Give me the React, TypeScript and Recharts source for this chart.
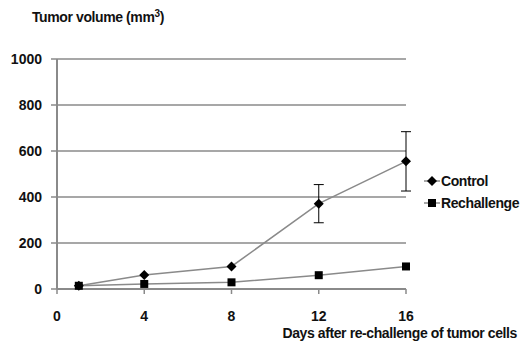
import React from "react";
import { LineChart, Line, XAxis, YAxis, CartesianGrid, ErrorBar } from "recharts";

const days = [1, 4, 8, 12, 16];
const control = [14, 61, 98, 371, 555];
const controlErr = [0, 0, 0, 83, 129];
const rechallenge = [14, 22, 29, 60, 98];
const xTicks = [0, 4, 8, 12, 16];
const yTicks = [0, 200, 400, 600, 800, 1000];
const seriesNames = ["Control", "Rechallenge"];

const data = days.map((d, i) => ({
  day: d,
  control: control[i],
  controlErr: controlErr[i],
  rechallenge: rechallenge[i],
}));

const GRAY = "#8a8a8a";
const FONT = "'Liberation Sans', Arial, sans-serif";

const renderDiamond = (props: any) => {
  const { cx, cy, index } = props;
  if (cx == null || cy == null) return <g key={`dm-${index}`} />;
  const r = 5;
  return (
    <polygon
      key={`dm-${index}`}
      points={`${cx},${cy - r} ${cx + r},${cy} ${cx},${cy + r} ${cx - r},${cy}`}
      fill="#000"
    />
  );
};

const renderSquare = (props: any) => {
  const { cx, cy, index } = props;
  if (cx == null || cy == null) return <g key={`sq-${index}`} />;
  const s = 8;
  return <rect key={`sq-${index}`} x={cx - s / 2} y={cy - s / 2} width={s} height={s} fill="#000" />;
};

const tickStyle = { fontFamily: FONT, fontSize: 14, fontWeight: 700, fill: "#111" };

const textStyle: React.CSSProperties = {
  fontFamily: FONT,
  fontSize: 14,
  fontWeight: 700,
  color: "#111",
  whiteSpace: "nowrap",
  letterSpacing: "-0.4px",
};

export default function App() {
  return (
    <div style={{ position: "absolute", left: 0, top: 0, width: 521, height: 354, background: "#fff" }}>
      <LineChart
        width={521}
        height={354}
        data={data}
        margin={{ top: 59, right: 115, bottom: 0, left: 0 }}
      >
        <CartesianGrid horizontal vertical={false} stroke={GRAY} strokeWidth={1.6} />
        <XAxis
          dataKey="day"
          type="number"
          domain={[0, 16]}
          ticks={xTicks}
          height={65}
          stroke={GRAY}
          strokeWidth={2}
          tickSize={5}
          tickMargin={17}
          tick={tickStyle}
          tickLine={{ stroke: GRAY, strokeWidth: 1.5 }}
        />
        <YAxis
          type="number"
          domain={[0, 1000]}
          ticks={yTicks}
          width={57}
          stroke={GRAY}
          strokeWidth={2}
          tickSize={6}
          tickMargin={9}
          tick={tickStyle}
          tickLine={{ stroke: GRAY, strokeWidth: 1.5 }}
        />
        <Line
          type="linear"
          dataKey="control"
          stroke={GRAY}
          strokeWidth={1.5}
          dot={renderDiamond}
          activeDot={false}
          isAnimationActive={false}
        >
          <ErrorBar dataKey="controlErr" direction="y" width={5} stroke="#000" strokeWidth={1} />
        </Line>
        <Line
          type="linear"
          dataKey="rechallenge"
          stroke={GRAY}
          strokeWidth={1.5}
          dot={renderSquare}
          activeDot={false}
          isAnimationActive={false}
        />
      </LineChart>

      <div style={{ ...textStyle, position: "absolute", left: 32, top: 9, lineHeight: "16px" }}>
        Tumor volume (mm<sup style={{ fontSize: 10, verticalAlign: "top", lineHeight: "10px" }}>3</sup>)
      </div>

      <div style={{ ...textStyle, position: "absolute", right: 4, top: 325, lineHeight: "16px" }}>
        Days after re-challenge of tumor cells
      </div>

      <div style={{ ...textStyle, position: "absolute", left: 424, top: 170 }}>
        {seriesNames.map((name, i) => (
          <div key={name} style={{ display: "flex", alignItems: "center", height: 22 }}>
            <svg width={16} height={12} style={{ marginRight: 1 }}>
              <line x1={0} y1={6} x2={16} y2={6} stroke={GRAY} strokeWidth={1.5} />
              {i === 0 ? (
                <polygon points="8,1 13,6 8,11 3,6" fill="#000" />
              ) : (
                <rect x={4} y={2} width={8} height={8} fill="#000" />
              )}
            </svg>
            <span>{name}</span>
          </div>
        ))}
      </div>
    </div>
  );
}
